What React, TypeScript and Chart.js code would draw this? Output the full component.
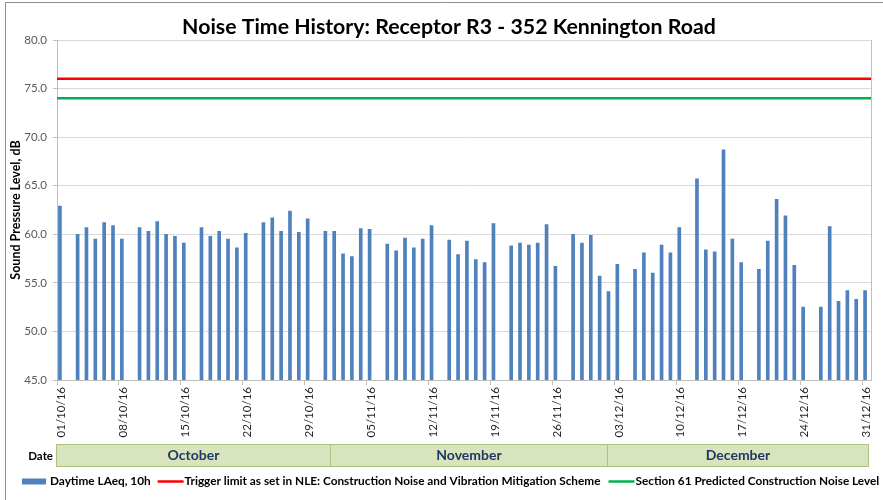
import React, { useEffect, useRef } from 'react';
import { Chart, registerables } from 'chart.js';

Chart.register(...registerables);

// ---------- data ----------
const MONTH_NAMES = ['October', 'November', 'December'];
const MONTH_CODES = ['10', '11', '12'];
const MONTH_LENGTHS = [31, 30, 31];
const YEAR_CODE = '16';

const dateLabels: string[] = [];
MONTH_CODES.forEach((m, mi) => {
  for (let d = 1; d <= MONTH_LENGTHS[mi]; d++) {
    dateLabels.push(`${String(d).padStart(2, '0')}/${m}/${YEAR_CODE}`);
  }
});

// Daytime LAeq,10h (dB) per day, 01/10/16 .. 31/12/16 (null = no measurement)
const daytimeLAeq: (number | null)[] = [
  62.9, null, 60.0, 60.7, 59.5, 61.2, 60.9, 59.5, null, 60.7,
  60.3, 61.3, 60.0, 59.8, 59.1, null, 60.7, 59.8, 60.3, 59.5,
  58.6, 60.1, null, 61.2, 61.7, 60.3, 62.4, 60.2, 61.6, null,
  60.3, 60.3, 58.0, 57.7, 60.6, 60.5, null, 59.0, 58.3, 59.6,
  58.6, 59.5, 60.9, null, 59.4, 57.9, 59.3, 57.4, 57.1, 61.1,
  null, 58.8, 59.1, 58.9, 59.1, 61.0, 56.7, null, 60.0, 59.1,
  59.9, 55.7, 54.1, 56.9, null, 56.4, 58.1, 56.0, 58.9, 58.1,
  60.7, null, 65.7, 58.4, 58.2, 68.7, 59.5, 57.1, null, 56.4,
  59.3, 63.6, 61.9, 56.8, 52.5, null, 52.5, 60.8, 53.1, 54.2,
  53.3, 54.2,
];

const TRIGGER_LIMIT = 76;
const SECTION61_LEVEL = 74;

const Y_MIN = 45;
const Y_MAX = 80;
const Y_STEP = 5;
const X_LABEL_EVERY = 7;

const TITLE = 'Noise Time History: Receptor R3 - 352 Kennington Road';
const Y_TITLE = 'Sound Pressure Level, dB';
const SERIES_NAMES = [
  'Daytime LAeq, 10h',
  'Trigger limit as set in NLE: Construction Noise and Vibration Mitigation Scheme',
  'Section 61 Predicted Construction Noise Level',
];
const DATE_ROW_LABEL = 'Date';

// ---------- styling ----------
const FONT = 'Lato, "Open Sans", sans-serif';
const BAR_COLOR = '#4f81bd';
const RED = '#ff0000';
const GREEN = '#00b050';
const GRID = '#d9d9d9';
const AXIS = '#bfbfbf';
// month band edges as fraction of plot width (layout only)
const BAND_EDGES = [-0.001, 0.3354, 0.6757, 0.9963];

const decorPlugin = {
  id: 'decor',
  beforeDraw(chart: any) {
    const { ctx, width, height } = chart;
    ctx.save();
    ctx.fillStyle = '#ffffff';
    ctx.fillRect(0, 0, width, height);
    ctx.restore();
  },
  afterDraw(chart: any) {
    const { ctx, chartArea: a, width, height } = chart;
    ctx.save();

    // plot right border
    ctx.strokeStyle = AXIS;
    ctx.lineWidth = 1;
    ctx.beginPath();
    ctx.moveTo(Math.round(a.right) + 0.5, a.top);
    ctx.lineTo(Math.round(a.right) + 0.5, a.bottom);
    ctx.stroke();

    // outer frame (top & left visible)
    ctx.strokeStyle = '#8c8c8c';
    ctx.beginPath();
    ctx.moveTo(5.5, height);
    ctx.lineTo(5.5, 2.5);
    ctx.lineTo(width, 2.5);
    ctx.stroke();

    // title
    ctx.fillStyle = '#000';
    ctx.font = `bold 21.3px ${FONT}`;
    ctx.textAlign = 'center';
    ctx.textBaseline = 'middle';
    ctx.fillText(TITLE, 449, 27);

    // month band
    const pw = a.right - a.left;
    const bandTop = a.bottom + 64;
    const bandH = 22;
    for (let i = 0; i < MONTH_NAMES.length; i++) {
      const x0 = Math.round(a.left + BAND_EDGES[i] * pw) + 0.5;
      const x1 = Math.round(a.left + BAND_EDGES[i + 1] * pw) + 0.5;
      ctx.fillStyle = '#d7e4bd';
      ctx.fillRect(x0, bandTop, x1 - x0, bandH);
      ctx.strokeStyle = '#a9c47f';
      ctx.strokeRect(x0, Math.round(bandTop) + 0.5, x1 - x0, bandH);
      ctx.fillStyle = '#1f3864';
      ctx.font = `bold 14px ${FONT}`;
      ctx.textAlign = 'center';
      ctx.fillText(MONTH_NAMES[i], (x0 + x1) / 2, bandTop + bandH / 2 + 0.5);
    }
    ctx.fillStyle = '#000';
    ctx.font = `bold 11.5px ${FONT}`;
    ctx.textAlign = 'right';
    ctx.fillText(DATE_ROW_LABEL, a.left - 4, bandTop + bandH / 2 + 1);

    // legend
    const ly = a.bottom + 101.5;
    ctx.font = `bold 11.8px ${FONT}`;
    ctx.textAlign = 'left';
    let x = 22;
    const ds = chart.data.datasets;
    // bar item
    ctx.fillStyle = ds[0].backgroundColor;
    ctx.fillRect(x, ly - 3, 24, 6);
    x += 28;
    ctx.fillStyle = '#000';
    ctx.fillText(ds[0].label, x, ly);
    x += ctx.measureText(ds[0].label).width + 7;
    for (let i = 1; i < ds.length; i++) {
      ctx.strokeStyle = ds[i].borderColor;
      ctx.lineWidth = 2.5;
      ctx.beginPath();
      ctx.moveTo(x, ly);
      ctx.lineTo(x + 26, ly);
      ctx.stroke();
      x += 27;
      ctx.fillStyle = '#000';
      ctx.fillText(ds[i].label, x, ly);
      x += ctx.measureText(ds[i].label).width + 8;
    }
    ctx.restore();
  },
};

export default function App() {
  const ref = useRef<HTMLCanvasElement | null>(null);

  useEffect(() => {
    if (!ref.current) return;
    const chart = new Chart(ref.current, {
      type: 'bar',
      data: {
        labels: dateLabels,
        datasets: [
          {
            type: 'bar',
            label: SERIES_NAMES[0],
            data: daytimeLAeq,
            backgroundColor: BAR_COLOR,
            borderWidth: 0,
            barThickness: 3,
            xAxisID: 'x',
            order: 2,
          } as any,
          {
            type: 'line',
            label: SERIES_NAMES[1],
            data: [
              { x: 0, y: TRIGGER_LIMIT },
              { x: 1, y: TRIGGER_LIMIT },
            ],
            borderColor: RED,
            borderWidth: 2.5,
            pointRadius: 0,
            xAxisID: 'x2',
            order: 1,
          } as any,
          {
            type: 'line',
            label: SERIES_NAMES[2],
            data: [
              { x: 0, y: SECTION61_LEVEL },
              { x: 1, y: SECTION61_LEVEL },
            ],
            borderColor: GREEN,
            borderWidth: 2.5,
            pointRadius: 0,
            xAxisID: 'x2',
            order: 1,
          } as any,
        ],
      },
      options: {
        animation: false,
        responsive: false,
        maintainAspectRatio: false,
        layout: { padding: { top: 40, right: 12, left: 0, bottom: 0 } },
        plugins: {
          legend: { display: false },
          title: { display: false },
          tooltip: { enabled: false },
        },
        scales: {
          x: {
            type: 'category',
            offset: true,
            grid: {
              offset: true,
              drawOnChartArea: false,
              drawTicks: true,
              tickLength: 5,
              tickColor: (c: any) => (c.index % X_LABEL_EVERY === 0 ? AXIS : 'rgba(0,0,0,0)'),
            },
            border: { color: AXIS },
            ticks: {
              autoSkip: false,
              minRotation: 90,
              maxRotation: 90,
              padding: 2,
              color: '#262626',
              font: { family: FONT, size: 11.5 },
              callback: function (this: any, v: any, i: number) {
                return i % X_LABEL_EVERY === 0 ? this.getLabelForValue(v) : '';
              },
            },
            afterFit: (s: any) => {
              s.height = 120;
            },
          },
          x2: {
            type: 'linear',
            min: 0,
            max: 1,
            offset: false,
            display: false,
          },
          y: {
            min: Y_MIN,
            max: Y_MAX,
            ticks: {
              stepSize: Y_STEP,
              color: '#595959',
              padding: 6,
              font: { family: FONT, size: 11.5 },
              callback: (v: any) => Number(v).toFixed(1),
            },
            grid: { color: GRID, tickLength: 4, tickColor: AXIS },
            border: { color: AXIS },
            title: {
              display: true,
              text: Y_TITLE,
              color: '#000',
              font: { family: FONT, size: 12.5, weight: 'bold' },
              padding: { top: 8, bottom: 0 },
            },
            afterFit: (s: any) => {
              s.width = 57;
            },
          },
        },
      },
      plugins: [decorPlugin],
    });
    return () => chart.destroy();
  }, []);

  return (
    <div style={{ position: 'fixed', left: 0, top: 0, width: 883, height: 500, background: '#fff' }}>
      <canvas ref={ref} width={883} height={500} style={{ display: 'block', width: 883, height: 500 }} />
    </div>
  );
}
